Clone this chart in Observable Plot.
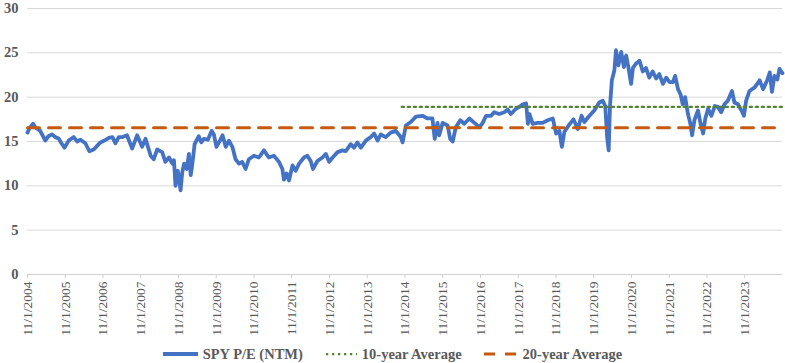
<!DOCTYPE html>
<html>
<head>
<meta charset="utf-8">
<script src="https://cdn.jsdelivr.net/npm/d3@7"></script>
<script src="https://cdn.jsdelivr.net/npm/@observablehq/plot@0.6"></script>
<style>
  html, body { margin: 0; padding: 0; background: #fff; }
  #chart { width: 785px; }
  .legend { display: flex; justify-content: center; align-items: center; height: 18px;
    font-family: "Liberation Serif", serif; font-weight: bold; font-size: 14.5px; color: #595959; }
  .legend .item { display: flex; align-items: center; margin: 0 11px; }
  .legend svg { margin-right: 5px; }
</style>
</head>
<body>
<div id="chart"></div>
<script>
const dates = [
"2004-11-01","2004-11-20","2004-12-25","2005-01-15","2005-03-04","2005-04-22","2005-05-22","2005-06-27","2005-07-27","2005-09-01",
"2005-09-25","2005-10-25","2005-12-04","2006-01-22","2006-02-25","2006-03-28","2006-05-15","2006-06-22","2006-08-04","2006-10-07",
"2006-11-15","2006-12-28","2007-02-01","2007-03-01","2007-04-03","2007-05-10","2007-06-22","2007-08-10","2007-09-28","2007-11-15",
"2007-12-18","2008-02-06","2008-03-07","2008-04-09","2008-05-27","2008-06-27","2008-08-01","2008-09-03","2008-09-18","2008-10-03",
"2008-10-25","2008-11-21","2008-12-07","2008-12-25","2009-01-19","2009-02-10","2009-02-27","2009-03-13","2009-04-06","2009-05-16",
"2009-06-09","2009-07-04","2009-08-12","2009-09-18","2009-10-09","2009-11-03","2009-12-07","2010-01-01","2010-02-01","2010-03-04",
"2010-04-06","2010-05-07","2010-06-09","2010-07-10","2010-08-12","2010-09-13","2010-11-01","2010-12-19","2011-02-06","2011-03-25",
"2011-05-13","2011-07-01","2011-08-03","2011-08-18","2011-09-13","2011-10-06","2011-11-09","2011-12-10","2012-01-12","2012-02-28",
"2012-04-01","2012-05-03","2012-05-25","2012-07-07","2012-08-25","2012-09-27","2012-10-28","2012-12-01","2013-01-18","2013-03-07",
"2013-04-07","2013-05-25","2013-06-27","2013-07-28","2013-09-01","2013-10-19","2013-12-06","2014-01-07","2014-02-09","2014-03-12",
"2014-04-28","2014-06-16","2014-08-04","2014-09-22","2014-10-09","2014-11-10","2014-12-28","2015-02-15","2015-04-19","2015-06-07",
"2015-07-25","2015-08-16","2015-09-12","2015-09-28","2015-11-01","2015-12-19","2016-01-13","2016-02-06","2016-03-07","2016-04-19",
"2016-05-28","2016-07-16","2016-09-03","2016-10-22","2016-11-22","2016-12-25","2017-02-12","2017-03-13","2017-05-01","2017-06-19",
"2017-07-22","2017-08-22","2017-10-10","2017-11-12","2017-12-15","2018-01-16","2018-02-03","2018-02-18","2018-03-20","2018-05-07",
"2018-06-25","2018-08-13","2018-10-01","2018-11-03","2018-12-04","2018-12-28","2019-01-22","2019-03-10","2019-04-19","2019-06-01",
"2019-07-07","2019-08-03","2019-09-21","2019-11-07","2019-12-25","2020-01-28","2020-02-21","2020-03-10","2020-03-25","2020-04-07",
"2020-04-25","2020-05-19","2020-06-04","2020-06-27","2020-07-24","2020-08-19","2020-09-10","2020-10-03","2020-10-28","2020-11-15",
"2020-12-16","2021-01-18","2021-02-18","2021-03-21","2021-04-22","2021-05-25","2021-06-27","2021-07-28","2021-09-01","2021-10-03",
"2021-11-04","2021-12-07","2021-12-28","2022-01-25","2022-02-19","2022-03-12","2022-04-04","2022-05-01","2022-05-25","2022-06-10",
"2022-07-03","2022-08-06","2022-09-01","2022-09-25","2022-10-16","2022-11-12","2022-12-13","2023-01-16","2023-02-15","2023-03-19",
"2023-04-19","2023-05-22","2023-07-01","2023-07-25","2023-08-28","2023-10-01","2023-10-25","2023-11-15","2023-12-18","2024-02-06",
"2024-03-25","2024-04-27","2024-06-06","2024-07-01","2024-07-22","2024-08-15","2024-09-12","2024-10-03","2024-11-01"
];
const pe = [
16.0,16.5,17.0,16.6,16.2,15.1,15.6,15.8,15.5,15.3,
14.8,14.3,15.1,15.5,15.0,15.2,14.8,13.9,14.1,14.9,
15.1,15.4,15.5,14.8,15.5,15.5,15.7,14.2,15.7,14.4,
15.3,13.4,13.0,14.1,13.8,12.7,13.2,12.5,12.9,10.0,
11.7,9.5,11.5,12.5,11.9,13.6,11.2,12.3,14.7,15.6,
14.9,15.3,15.2,16.2,15.8,14.4,15.1,15.7,14.4,15.1,
14.4,13.0,12.5,12.7,11.9,13.0,13.4,13.2,14.0,13.2,
13.4,12.7,11.9,10.7,11.4,10.6,12.3,11.7,12.5,13.2,
13.4,12.8,11.9,12.8,13.2,13.6,12.7,13.2,13.8,14.0,
13.9,14.7,14.3,14.9,14.3,15.1,15.5,15.9,15.1,15.8,
15.5,16.0,16.2,15.5,14.9,16.8,17.2,17.8,17.9,17.6,
17.6,15.3,17.1,15.7,17.1,16.8,15.3,15.0,16.6,17.4,
17.0,17.6,17.1,16.6,17.1,17.9,17.9,18.3,18.1,18.3,
18.6,18.1,18.7,18.9,19.2,19.3,17.0,18.1,17.0,17.1,
17.1,17.4,17.6,15.9,16.2,14.4,16.1,16.9,17.5,16.4,
17.9,17.2,17.9,18.5,19.4,19.6,19.0,15.5,14.0,19.0,
21.9,23.0,25.3,23.6,25.1,23.4,24.7,23.3,21.5,23.3,
23.8,24.1,22.9,23.3,22.2,22.9,22.1,22.6,21.5,22.2,
21.7,21.7,22.4,20.9,20.3,19.2,20.0,18.1,17.0,15.7,
17.4,18.5,17.0,15.9,17.6,18.7,17.9,19.0,18.9,18.3,
19.2,19.6,20.7,19.4,19.2,18.5,17.9,19.6,20.7,21.1,
21.9,20.9,21.9,22.8,20.6,22.4,22.0,23.2,22.7
];
const avg10 = 18.9, avg10Start = "2014-10-01";
const avg20 = 16.55, avg20Start = "2004-11-01";
const seriesEnd = "2024-11-01";
const yTicks = [0, 5, 10, 15, 20, 25, 30];
const tickYears = d3.range(2004, 2024);
const labels = ["SPY P/E (NTM)", "10-year Average", "20-year Average"];

const data = dates.map((d, i) => ({date: new Date(d), value: pe[i]}));
const xTicks = tickYears.map(y => new Date(Date.UTC(y, 10, 1)));
const fmt = d => `${d.getUTCMonth() + 1}/${d.getUTCDate()}/${d.getUTCFullYear()}`;

const chart = Plot.plot({
  width: 785,
  height: 345,
  marginLeft: 27,
  marginRight: 3,
  marginTop: 8,
  marginBottom: 71,
  style: {fontFamily: "Liberation Serif, serif", color: "#595959", background: "#fff"},
  x: {type: "utc", domain: [new Date(avg20Start), new Date(seriesEnd)]},
  y: {domain: [0, 30]},
  marks: [
    Plot.ruleY(yTicks.filter(v => v > 0), {stroke: "#d9d9d9", strokeWidth: 1}),
    Plot.ruleY([0], {stroke: "#d0d0d0", strokeWidth: 1}),
    Plot.axisY({ticks: yTicks, tickSize: 0, tickPadding: 9, label: null,
      fontSize: 14.5, fontWeight: "bold", fill: "#595959"}),
    Plot.axisX({ticks: xTicks, tickFormat: fmt, tickRotate: -90, tickSize: 4, tickPadding: 3,
      label: null, fontSize: 13.5, stroke: "#d0d0d0", fill: "#595959"}),
    Plot.lineY(data, {x: "date", y: "value", stroke: "#4472C4", strokeWidth: 3.8,
      strokeLinejoin: "round", curve: "linear"}),
    Plot.lineY([{d: new Date(avg10Start), v: avg10}, {d: new Date(seriesEnd), v: avg10}],
      {x: "d", y: "v", stroke: "#548235", strokeWidth: 2.25, strokeDasharray: "2.25,3.75"}),
    Plot.lineY([{d: new Date(avg20Start), v: avg20}, {d: new Date(seriesEnd), v: avg20}],
      {x: "d", y: "v", stroke: "#C55A11", strokeWidth: 3, strokeDasharray: "12,9"})
  ]
});
document.getElementById("chart").appendChild(chart);

const legend = document.createElement("div");
legend.className = "legend";
const sw = [
  `<svg width="35" height="8"><line x1="0" y1="4" x2="35" y2="4" stroke="#4472C4" stroke-width="3.8"/></svg>`,
  `<svg width="32" height="8"><line x1="1" y1="4" x2="32" y2="4" stroke="#548235" stroke-width="2.25" stroke-dasharray="2.25,3.75"/></svg>`,
  `<svg width="34" height="8"><line x1="0" y1="4" x2="34" y2="4" stroke="#C55A11" stroke-width="3" stroke-dasharray="11,10"/></svg>`
];
legend.innerHTML = labels.map((l, i) => `<div class="item">${sw[i]}<span>${l}</span></div>`).join("");
document.getElementById("chart").appendChild(legend);
</script>
</body>
</html>
